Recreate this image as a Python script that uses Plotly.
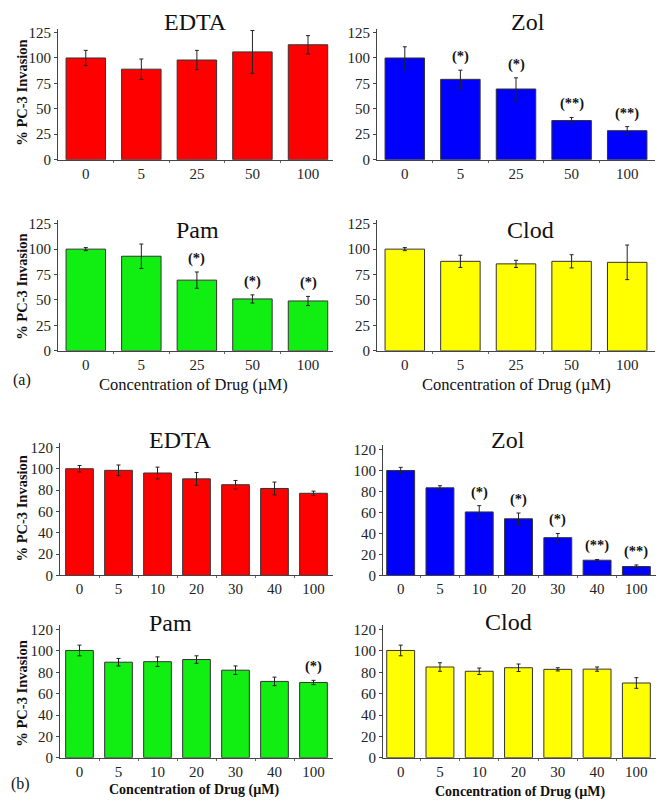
import plotly.graph_objects as go

W, H = 666, 812

# ---------------- data ----------------
conc_a = ["0", "5", "25", "50", "100"]
conc_b = ["0", "5", "10", "20", "30", "40", "100"]

edta_a = [100, 89, 98, 106, 113]
edta_a_err = [7.5, 10, 9.5, 21, 9]
zol_a = [100, 79, 69.5, 38.5, 28.5]
zol_a_err = [11, 9, 11, 3, 4]
zol_a_sig = ["", "(*)", "(*)", "(**)", "(**)"]
pam_a = [100, 93, 69.5, 51, 49]
pam_a_err = [1.5, 12, 8, 4, 4.5]
pam_a_sig = ["", "", "(*)", "(*)", "(*)"]
clod_a = [100, 88, 85.5, 88, 87]
clod_a_err = [1.5, 6, 3.5, 6.5, 17]

edta_b = [100, 98.5, 96, 90.5, 85, 81.5, 77]
edta_b_err = [3, 5, 5.5, 6, 4, 6, 2]
zol_b = [100, 83.5, 60.5, 54, 36, 14.5, 8.5]
zol_b_err = [3, 2, 6, 5.5, 4, 0.7, 1.5]
zol_b_sig = ["", "", "(*)", "(*)", "(*)", "(**)", "(**)"]
pam_b = [100.5, 89.5, 90, 92, 82, 71.5, 70.5]
pam_b_err = [5, 3.5, 4.5, 3.5, 4, 4, 2]
pam_b_sig = ["", "", "", "", "", "", "(*)"]
clod_b = [100.5, 85, 81, 84.3, 82.8, 83, 70]
clod_b_err = [5, 4, 3, 3.5, 1.5, 2, 5]

FONT = "Liberation Serif, Times New Roman, serif"
INK = "#222222"


def px(x):
    return x / W


def py(y):
    return 1 - y / H


# panel: (name, cats, vals, errs, sig, color, x-domain px, x-range, zero px, ppu, ymax, dtick)
panels = [
    ("EDTA", conc_a, edta_a, edta_a_err, None, "#FF0000", (58, 333), [-0.5, 4.45], 158, 1.032, 129, 25),
    ("Zol", conc_a, zol_a, zol_a_err, zol_a_sig, "#0000FF", (377, 655), [-0.5, 4.5], 158, 1.032, 129, 25),
    ("Pam", conc_a, pam_a, pam_a_err, pam_a_sig, "#11EE11", (58, 333), [-0.5, 4.45], 352, 1.032, 129, 25),
    ("Clod", conc_a, clod_a, clod_a_err, None, "#FFFF00", (377, 655), [-0.5, 4.5], 352, 1.032, 129, 25),
    ("EDTA", conc_b, edta_b, edta_b_err, None, "#FF0000", (60, 333), [-0.5, 6.5], 580, 1.083, 124, 20),
    ("Zol", conc_b, zol_b, zol_b_err, zol_b_sig, "#0000FF", (383, 656), [-0.45, 6.5], 580, 1.065, 124, 20),
    ("Pam", conc_b, pam_b, pam_b_err, pam_b_sig, "#11EE11", (60, 333), [-0.5, 6.5], 765, 1.083, 124, 20),
    ("Clod", conc_b, clod_b, clod_b_err, None, "#FFFF00", (383, 656), [-0.45, 6.5], 765, 1.083, 124, 20),
]

# title positions (px)
title_pos = [(195, 18), (528, 18), (197, 229), (530, 229),
             (180, 443), (508, 443), (170, 628), (508, 627)]

fig = go.Figure()
annotations = []
layout = {}


def label(text, x, y, size, angle=0):
    return dict(text=text, x=px(x), y=py(y), xref="paper", yref="paper",
                showarrow=False, xanchor="center", yanchor="middle", textangle=angle,
                font=dict(family=FONT, size=size, color="#111111"))


for i, (name, cats, vals, errs, sig, color, xd, xr, zero, ppu, ymax, dtick) in enumerate(panels):
    k = i + 1
    xa = "x" if k == 1 else f"x{k}"
    ya = "y" if k == 1 else f"y{k}"
    xkey = "xaxis" if k == 1 else f"xaxis{k}"
    ykey = "yaxis" if k == 1 else f"yaxis{k}"
    top = zero - ymax * ppu
    idx = list(range(len(cats)))
    fig.add_trace(go.Bar(
        x=idx, y=vals, xaxis=xa, yaxis=ya, width=0.71,
        marker=dict(color=color, line=dict(color="#333333", width=1)),
        error_y=dict(type="data", array=errs, visible=True, color="#222222", thickness=1, width=2),
        showlegend=False, hovertext=cats,
    ))
    layout[xkey] = dict(
        domain=[px(xd[0]), px(xd[1])], anchor=ya, range=xr,
        tickmode="array", tickvals=idx, ticktext=cats,
        minor=dict(tickmode="array", tickvals=[j + 0.5 for j in idx[:-1]], ticks="outside",
                   ticklen=2, tickcolor="#666666", showgrid=False),
        showline=True, linecolor="#444444", linewidth=1, ticks="", showgrid=False,
        tickfont=dict(family=FONT, size=15, color=INK), zeroline=False,
    )
    layout[ykey] = dict(
        domain=[py(zero), py(top)], anchor=xa, range=[0, ymax], dtick=dtick, tick0=0,
        showline=True, linecolor="#444444", linewidth=1, ticks="outside", ticklen=3,
        tickcolor="#444444", showgrid=False, zeroline=False,
        tickfont=dict(family=FONT, size=15, color=INK),
    )
    tx, ty = title_pos[i]
    annotations.append(label(name, tx, ty, 24))
    if sig:
        for j, (v, e, s) in enumerate(zip(vals, errs, sig)):
            if s:
                annotations.append(dict(text=f"<b>{s}</b>", x=j, y=v + e, xref=xa, yref=ya,
                                        showarrow=False, xanchor="center", yanchor="bottom", yshift=3,
                                        font=dict(family=FONT, size=14.5, color="#111111")))

# y-axis titles
for cy in [90, 287, 512, 700]:
    annotations.append(label("<b>% PC-3 Invasion</b>", 22, cy, 14.5, angle=-90))

# x-axis titles and panel letters
annotations.append(label("Concentration of Drug (\u00b5M)", 193, 386, 16.5))
annotations.append(label("Concentration of Drug (\u00b5M)", 516, 386, 16.5))
annotations.append(label("<b>Concentration of Drug (\u00b5M)</b>", 194, 798, 14))
annotations.append(label("<b>Concentration of Drug (\u00b5M)</b>", 520, 800, 14))
annotations.append(label("(a)", 22, 382, 16))
annotations.append(label("(b)", 21, 792, 16))

fig.update_layout(
    width=W, height=H, margin=dict(l=0, r=0, t=0, b=0),
    paper_bgcolor="white", plot_bgcolor="white",
    annotations=annotations, bargap=0.29, **layout,
)

fig.write_html("out.html", config={"displayModeBar": False},
               post_script="document.body.style.margin='0';document.body.style.overflow='hidden';")
